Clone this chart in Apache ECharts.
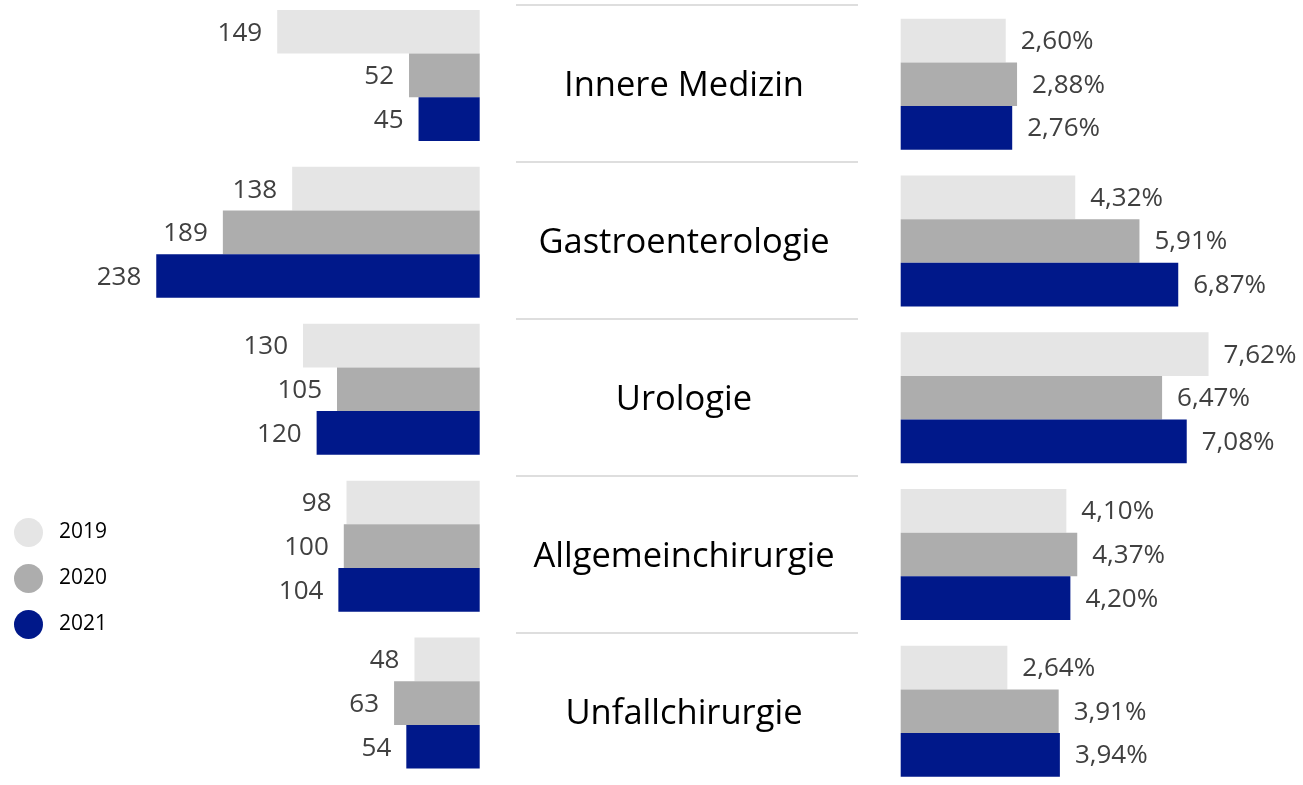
<!DOCTYPE html>
<html>
<head>
<meta charset="utf-8">
<script src="https://cdn.jsdelivr.net/npm/echarts@6/dist/echarts.min.js"></script>
<style>
html,body{margin:0;padding:0;background:#fff;}
#chart{width:1303px;height:785px;}
</style>
</head>
<body>
<div id="chart"></div>
<script>
const categories = ['Innere Medizin', 'Gastroenterologie', 'Urologie', 'Allgemeinchirurgie', 'Unfallchirurgie'];
const years = ['2019', '2020', '2021'];
const count2019 = [149, 138, 130, 98, 48];
const count2020 = [52, 189, 105, 100, 63];
const count2021 = [45, 238, 120, 104, 54];
const rate2019 = [2.60, 4.32, 7.62, 4.10, 2.64];
const rate2020 = [2.88, 5.91, 6.47, 4.37, 3.91];
const rate2021 = [2.76, 6.87, 7.08, 4.20, 3.94];
const colors = ['#E5E5E5', '#ADADAD', '#00188A'];

const counts = [count2019, count2020, count2021];
const rates = [rate2019, rate2020, rate2021];
const FONT = 'Open Sans';

const chart = echarts.init(document.getElementById('chart'), null, {renderer: 'canvas'});

const series = [];
years.forEach((y, i) => {
  series.push({
    type: 'bar', name: y, xAxisIndex: 0, yAxisIndex: 0,
    data: counts[i], barGap: '0%', barCategoryGap: '16.5%',
    itemStyle: {color: colors[i]},
    label: {show: true, position: 'left', distance: 15, offset: [0, 1.5], fontSize: 26, fontFamily: FONT, color: '#404040'}
  });
});
years.forEach((y, i) => {
  series.push({
    type: 'bar', name: y, xAxisIndex: 2, yAxisIndex: 2,
    data: rates[i], barGap: '0%', barCategoryGap: '16.5%',
    itemStyle: {color: colors[i]},
    label: {show: true, position: 'right', distance: 15, offset: [0, 1], fontSize: 26, fontFamily: FONT, color: '#404040',
      formatter: p => p.value.toFixed(2).replace('.', ',') + '%'}
  });
});

chart.setOption({
  animation: false,
  backgroundColor: '#ffffff',
  legend: {
    data: years, orient: 'vertical', left: 9, top: 513,
    icon: 'circle', itemWidth: 29, itemHeight: 29, itemGap: 17,
    textStyle: {fontSize: 21, fontFamily: FONT, color: '#000000', padding: [0, 0, 0, 11]}
  },
  grid: [
    {left: 72, top: -3, width: 407.7, height: 784.5, containLabel: false, outerBoundsMode: 'none'},
    {left: 516, top: 4.3, width: 342, height: 785, containLabel: false, outerBoundsMode: 'none'},
    {left: 900.7, top: 5.9, width: 323.2, height: 783.75, containLabel: false, outerBoundsMode: 'none'}
  ],
  xAxis: [
    {gridIndex: 0, type: 'value', inverse: true, min: 0, max: 300, show: false},
    {gridIndex: 1, type: 'value', min: 0, max: 1, show: false},
    {gridIndex: 2, type: 'value', min: 0, max: 8, show: false}
  ],
  yAxis: [
    {gridIndex: 0, type: 'category', data: categories, inverse: true, show: false},
    {gridIndex: 1, type: 'category', data: categories, inverse: true,
      axisLine: {show: false}, axisTick: {show: false},
      splitLine: {show: true, lineStyle: {color: '#DEDEDE', width: 2}},
      axisLabel: {inside: true, align: 'center', margin: 168,
        formatter: v => '{t|' + v + '}',
        rich: {t: {fontSize: 34.5, fontFamily: FONT, color: '#000000', padding: [6, 0, 0, 0]}}
      }
    },
    {gridIndex: 2, type: 'category', data: categories, inverse: true, show: false}
  ],
  series: series
});
</script>
</body>
</html>
